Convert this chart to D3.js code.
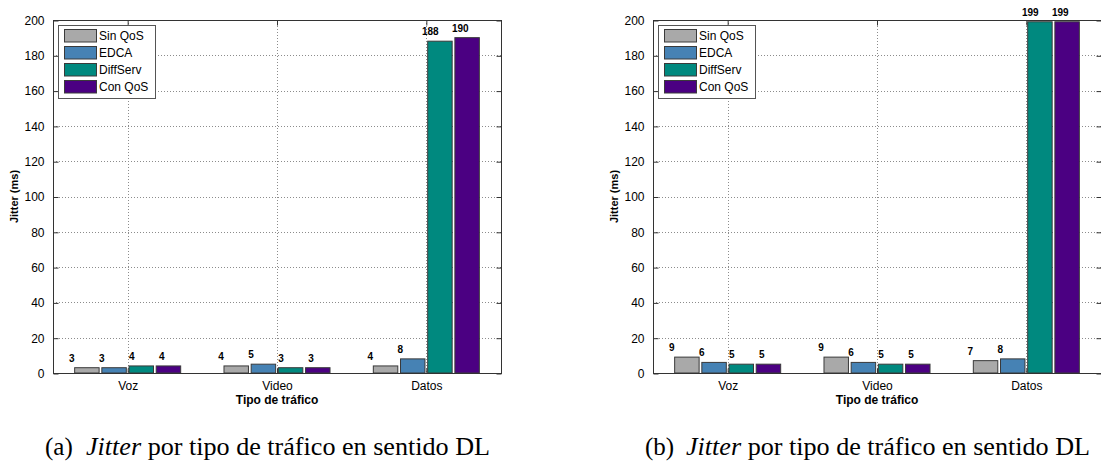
<!DOCTYPE html>
<html>
<head>
<meta charset="utf-8">
<script src="https://cdn.jsdelivr.net/npm/d3@7"></script>
<style>
  html, body { margin: 0; padding: 0; background: #fff; }
  svg { display: block; }
  text { font-family: "Liberation Sans", Arial, sans-serif; fill: #000; }
  .caption { font-family: "Liberation Serif", "Times New Roman", serif; }
</style>
</head>
<body>
<svg id="chart" width="1101" height="464"></svg>
<script>
// Traffic classes and QoS schemes
const categories = ["Voz", "Video", "Datos"];
const series = ["Sin QoS", "EDCA", "DiffServ", "Con QoS"];
const seriesColors = ["#a9a9a9", "#4682b4", "#00897f", "#4b0082"];

// Panel (a): jitter in ms per traffic class
const jitterA_sinQoS   = [3, 4, 4];
const jitterA_edca     = [3, 5, 8];
const jitterA_diffServ = [4, 3, 188];
const jitterA_conQoS   = [4, 3, 190];

// Panel (b): jitter in ms per traffic class
const jitterB_sinQoS   = [9, 9, 7];
const jitterB_edca     = [6, 6, 8];
const jitterB_diffServ = [5, 5, 199];
const jitterB_conQoS   = [5, 5, 199];

const yTickValues = [0, 20, 40, 60, 80, 100, 120, 140, 160, 180, 200];
const yLabel = "Jitter (ms)";
const xLabel = "Tipo de tráfico";
const captionTags = ["(a)", "(b)"];
const captionItalic = "Jitter";
const captionRest = "por tipo de tráfico en sentido DL";

const svg = d3.select("#chart");

function drawPanel(left, seriesValues, tag) {
  const plot = { left: left, right: left + 448, top: 20, bottom: 373 };
  const g = svg.append("g");

  const x = d3.scaleBand().domain(categories)
    .range([plot.left, plot.right]).paddingInner(0.29).paddingOuter(0.145);
  const xs = d3.scaleBand().domain(series)
    .range([0, x.bandwidth()]).paddingInner(0.1).paddingOuter(0);
  const labelX = d3.scalePoint().domain(series).range([-56, 34]);
  const y = d3.scaleLinear().domain([0, 200]).range([plot.bottom, plot.top]);

  // dotted grid
  g.append("g").selectAll("line").data(yTickValues.slice(1, -1)).join("line")
    .attr("x1", plot.left).attr("x2", plot.right)
    .attr("y1", d => Math.round(y(d)) + 0.5).attr("y2", d => Math.round(y(d)) + 0.5)
    .attr("stroke", "#8c8c8c").attr("stroke-width", 1).attr("stroke-dasharray", "1,2");
  g.append("g").selectAll("line").data(categories).join("line")
    .attr("x1", d => Math.round(x(d) + x.bandwidth() / 2) + 0.5)
    .attr("x2", d => Math.round(x(d) + x.bandwidth() / 2) + 0.5)
    .attr("y1", plot.top).attr("y2", plot.bottom)
    .attr("stroke", "#8c8c8c").attr("stroke-width", 1).attr("stroke-dasharray", "1,2");

  // bars
  const rows = [];
  categories.forEach((c, i) => series.forEach((s, j) => rows.push({ c, s, j, v: seriesValues[j][i] })));
  g.append("g").selectAll("rect").data(rows).join("rect")
    .attr("x", d => x(d.c) + xs(d.s))
    .attr("width", xs.bandwidth())
    .attr("y", d => y(d.v))
    .attr("height", d => y(0) - y(d.v))
    .attr("fill", d => seriesColors[d.j])
    .attr("stroke", "#3a3a3a").attr("stroke-width", 1);

  // value labels
  g.append("g").selectAll("text").data(rows).join("text")
    .attr("x", d => x(d.c) + x.bandwidth() / 2 + labelX(d.s))
    .attr("y", d => y(d.v) - 6)
    .attr("text-anchor", "middle")
    .attr("font-size", 10).attr("font-weight", "bold")
    .text(d => d.v);

  // frame
  g.append("rect")
    .attr("x", plot.left + 0.5).attr("y", plot.top + 0.5)
    .attr("width", plot.right - plot.left).attr("height", plot.bottom - plot.top)
    .attr("fill", "none").attr("stroke", "#333").attr("stroke-width", 1);

  // axes with inward ticks
  const yAxisL = d3.axisLeft(y).tickValues(yTickValues).tickSizeInner(-5).tickSizeOuter(0).tickPadding(9);
  const yAxisR = d3.axisRight(y).tickValues(yTickValues).tickSizeInner(-5).tickSizeOuter(0).tickFormat("");
  const xAxisB = d3.axisBottom(x).tickSizeInner(-5).tickSizeOuter(0).tickPadding(8);
  const xAxisT = d3.axisTop(x).tickSizeInner(-5).tickSizeOuter(0).tickFormat("");
  [[yAxisL, `translate(${plot.left + 0.5},0.5)`], [yAxisR, `translate(${plot.right + 0.5},0.5)`],
   [xAxisB, `translate(0.5,${plot.bottom + 0.5})`], [xAxisT, `translate(0.5,${plot.top + 0.5})`]]
    .forEach(([ax, tr]) => {
      const a = g.append("g").attr("transform", tr).call(ax);
      a.select(".domain").remove();
      a.selectAll(".tick line").attr("stroke", "#333");
      a.selectAll("text").attr("font-size", 12).attr("font-family", "Liberation Sans, Arial, sans-serif").attr("fill", "#000");
    });

  // axis titles
  g.append("text")
    .attr("transform", `translate(${plot.left - 35},${(plot.top + plot.bottom) / 2}) rotate(-90)`)
    .attr("text-anchor", "middle").attr("font-size", 11).attr("font-weight", "bold")
    .text(yLabel);
  g.append("text")
    .attr("x", (plot.left + plot.right) / 2).attr("y", plot.bottom + 31)
    .attr("text-anchor", "middle").attr("font-size", 12).attr("font-weight", "bold")
    .text(xLabel);

  // legend
  const lg = g.append("g").attr("transform", `translate(${plot.left + 5},${plot.top + 5})`);
  lg.append("rect").attr("x", 0.5).attr("y", 0.5).attr("width", 97).attr("height", 73)
    .attr("fill", "#fff").attr("stroke", "#555").attr("stroke-width", 1);
  const items = lg.selectAll("g.item").data(series).join("g")
    .attr("transform", (d, i) => `translate(6,${4 + i * 17})`);
  items.append("rect").attr("x", 0.5).attr("y", 0.5).attr("width", 32).attr("height", 12.5)
    .attr("fill", (d, i) => seriesColors[i]).attr("stroke", "#3a3a3a");
  items.append("text").attr("x", 35).attr("y", 11).attr("font-size", 12).text(d => d);

  // caption: tag, then the italic term and the rest of the sentence
  const capLeft = plot.left - 8;
  svg.append("text").attr("class", "caption")
    .attr("x", capLeft).attr("y", 455).attr("font-size", 25)
    .text(tag);
  const cap = svg.append("text").attr("class", "caption")
    .attr("x", capLeft + 41).attr("y", 455).attr("font-size", 25)
    .attr("textLength", 404).attr("lengthAdjust", "spacingAndGlyphs");
  cap.append("tspan").attr("font-style", "italic").text(captionItalic + " ");
  cap.append("tspan").text(captionRest);
}

drawPanel(53, [jitterA_sinQoS, jitterA_edca, jitterA_diffServ, jitterA_conQoS], captionTags[0]);
drawPanel(653, [jitterB_sinQoS, jitterB_edca, jitterB_diffServ, jitterB_conQoS], captionTags[1]);
</script>
</body>
</html>
